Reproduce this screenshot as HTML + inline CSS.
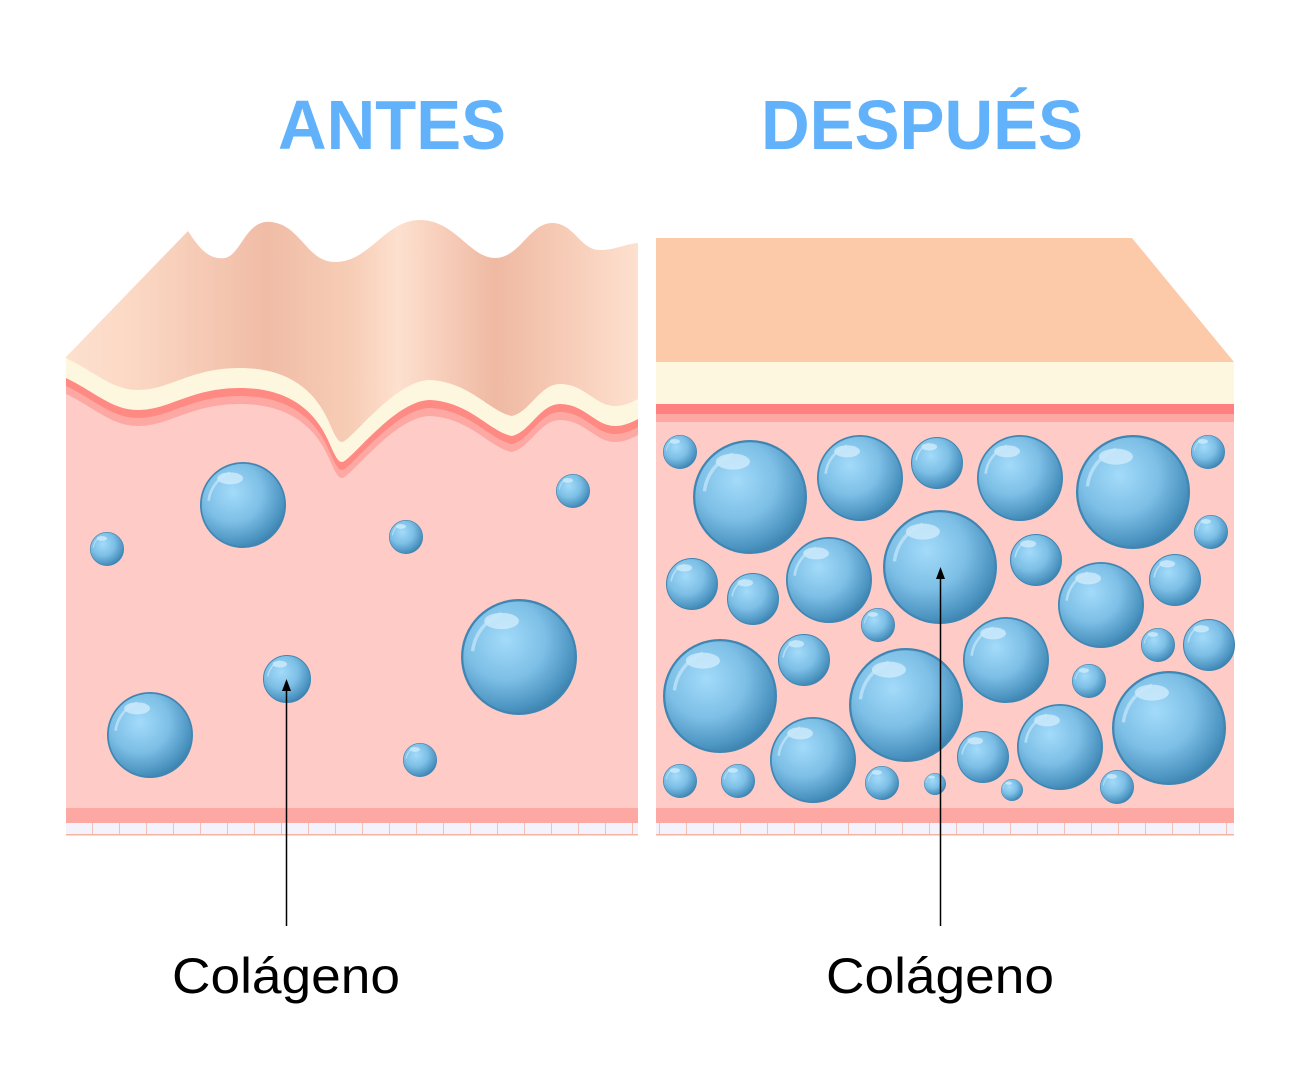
<!DOCTYPE html>
<html><head><meta charset="utf-8"><style>html,body{margin:0;padding:0;background:#fff}svg{display:block}</style></head>
<body>
<svg width="1300" height="1080" viewBox="0 0 1300 1080" xmlns="http://www.w3.org/2000/svg">
<defs>
<radialGradient id="b" cx="0.38" cy="0.35" r="0.7">
<stop offset="0" stop-color="#a3dbfa"/><stop offset="0.5" stop-color="#7dbfe6"/><stop offset="0.85" stop-color="#4d95c2"/><stop offset="1" stop-color="#3a80ad"/>
</radialGradient>
<linearGradient id="sk" x1="0" x2="1" y1="0" y2="0">
<stop offset="0" stop-color="#fde0cf"/><stop offset="0.12" stop-color="#fbd8c4"/><stop offset="0.35" stop-color="#f0bca6"/><stop offset="0.5" stop-color="#f7cdb6"/><stop offset="0.58" stop-color="#fde0cf"/><stop offset="0.75" stop-color="#efb9a2"/><stop offset="0.9" stop-color="#f8d0bc"/><stop offset="1" stop-color="#fde0cf"/>
</linearGradient>
<pattern id="cells" x="66" y="823" width="27" height="12" patternUnits="userSpaceOnUse">
<rect width="27" height="12" fill="#f4f2fb"/><rect x="26" width="1" height="12" fill="#f3c1b4"/>
</pattern>
<path id="wv" d="M66,358 C95,372 112,390 138,390 C170,390 190,368 240,368 C290,368 315,392 328,420 C335,436 338,442 342,442 C350,442 395,380 430,380 C470,382 490,412 512,416 C530,412 540,384 560,384 C585,384 595,406 615,406 C625,406 632,402 638,399 L638,780 L66,780 Z"/>
<symbol id="bub" viewBox="-1 -1 2 2"><circle r="0.98" fill="url(#b)" stroke="#3f86b3" stroke-width="0.04"/><ellipse cx="-0.3" cy="-0.62" rx="0.3" ry="0.14" fill="#d8f0fd" opacity="0.7"/><path d="M-0.8,-0.1 A0.8,0.8 0 0 1 -0.3,-0.75" stroke="#c8e8fb" stroke-width="0.06" fill="none" opacity="0.7"/></symbol>
</defs>

<text x="392" y="149" font-family="Liberation Sans, sans-serif" font-weight="bold" font-size="70" fill="#61b2fb" text-anchor="middle" textLength="228" lengthAdjust="spacingAndGlyphs">ANTES</text>
<text x="922" y="149" font-family="Liberation Sans, sans-serif" font-weight="bold" font-size="70" fill="#61b2fb" text-anchor="middle" textLength="322" lengthAdjust="spacingAndGlyphs">DESPUÉS</text>

<path d="M66,357 L188,231 C200,250 210,260 225,258 C240,255 245,225 265,222 C300,220 305,262 335,262 C370,262 385,220 420,220 C455,220 470,258 495,258 C520,258 530,222 553,223 C575,224 580,250 600,250 C615,250 625,244 638,243 L638,470 L66,470 Z" fill="url(#sk)"/>
<use href="#wv" fill="#fef7df"/>
<g transform="translate(0,20)"><use href="#wv" fill="#ff8a84"/></g>
<g transform="translate(0,28)"><use href="#wv" fill="#fda8a2"/></g>
<g transform="translate(0,36)"><use href="#wv" fill="#fecbc7"/></g>
<rect x="66" y="800" width="572" height="8" fill="#fecbc7"/>
<rect x="66" y="808" width="572" height="15" fill="#fda8a2"/>
<rect x="66" y="823" width="572" height="12" fill="url(#cells)"/>
<rect x="66" y="834" width="572" height="1.5" fill="#f3b4a4"/>

<path d="M656,238 L1132,238 L1234,362 L656,362 Z" fill="#fcc9a9"/>
<rect x="656" y="362" width="578" height="42" fill="#fef7df"/>
<rect x="656" y="404" width="578" height="10" fill="#ff8080"/>
<rect x="656" y="414" width="578" height="8" fill="#fda8a2"/>
<rect x="656" y="422" width="578" height="386" fill="#fecbc7"/>
<path d="M656,808 L1234,808 L1234,823 L656,823 Z" fill="#fda8a2"/>
<rect x="656" y="823" width="578" height="12" fill="url(#cells)"/>
<rect x="656" y="834" width="578" height="1.5" fill="#f3b4a4"/>

<g>
<use href="#bub" x="200" y="462" width="86" height="86"/>
<use href="#bub" x="90" y="532" width="34" height="34"/>
<use href="#bub" x="389" y="520" width="34" height="34"/>
<use href="#bub" x="556" y="474" width="34" height="34"/>
<use href="#bub" x="461" y="599" width="116" height="116"/>
<use href="#bub" x="263" y="655" width="48" height="48"/>
<use href="#bub" x="107" y="692" width="86" height="86"/>
<use href="#bub" x="403" y="743" width="34" height="34"/>
</g>
<g>
<use href="#bub" x="663" y="435" width="34" height="34"/>
<use href="#bub" x="693" y="440" width="114" height="114"/>
<use href="#bub" x="817" y="435" width="86" height="86"/>
<use href="#bub" x="911" y="437" width="52" height="52"/>
<use href="#bub" x="977" y="435" width="86" height="86"/>
<use href="#bub" x="1076" y="435" width="114" height="114"/>
<use href="#bub" x="1191" y="435" width="34" height="34"/>
<use href="#bub" x="1194" y="515" width="34" height="34"/>
<use href="#bub" x="666" y="558" width="52" height="52"/>
<use href="#bub" x="727" y="573" width="52" height="52"/>
<use href="#bub" x="786" y="537" width="86" height="86"/>
<use href="#bub" x="883" y="510" width="114" height="114"/>
<use href="#bub" x="1010" y="534" width="52" height="52"/>
<use href="#bub" x="1058" y="562" width="86" height="86"/>
<use href="#bub" x="1149" y="554" width="52" height="52"/>
<use href="#bub" x="1141" y="628" width="34" height="34"/>
<use href="#bub" x="1183" y="619" width="52" height="52"/>
<use href="#bub" x="861" y="608" width="34" height="34"/>
<use href="#bub" x="778" y="634" width="52" height="52"/>
<use href="#bub" x="663" y="639" width="114" height="114"/>
<use href="#bub" x="849" y="648" width="114" height="114"/>
<use href="#bub" x="963" y="617" width="86" height="86"/>
<use href="#bub" x="1072" y="664" width="34" height="34"/>
<use href="#bub" x="1112" y="671" width="114" height="114"/>
<use href="#bub" x="663" y="764" width="34" height="34"/>
<use href="#bub" x="721" y="764" width="34" height="34"/>
<use href="#bub" x="770" y="717" width="86" height="86"/>
<use href="#bub" x="865" y="766" width="34" height="34"/>
<use href="#bub" x="924" y="773" width="22" height="22"/>
<use href="#bub" x="957" y="731" width="52" height="52"/>
<use href="#bub" x="1017" y="704" width="86" height="86"/>
<use href="#bub" x="1001" y="779" width="22" height="22"/>
<use href="#bub" x="1100" y="770" width="34" height="34"/>
</g>

<line x1="286.5" y1="926" x2="286.5" y2="688" stroke="#000" stroke-width="1.5"/>
<path d="M286.5,679 L282,691 L291,691 Z" fill="#000"/>
<line x1="940.5" y1="926" x2="940.5" y2="576" stroke="#000" stroke-width="1.5"/>
<path d="M940.5,567 L936,579 L945,579 Z" fill="#000"/>

<text x="286" y="993" font-family="Liberation Sans, sans-serif" font-size="50" fill="#000" text-anchor="middle" textLength="228" lengthAdjust="spacingAndGlyphs">Colágeno</text>
<text x="940" y="993" font-family="Liberation Sans, sans-serif" font-size="50" fill="#000" text-anchor="middle" textLength="228" lengthAdjust="spacingAndGlyphs">Colágeno</text>
</svg>
</body></html>
